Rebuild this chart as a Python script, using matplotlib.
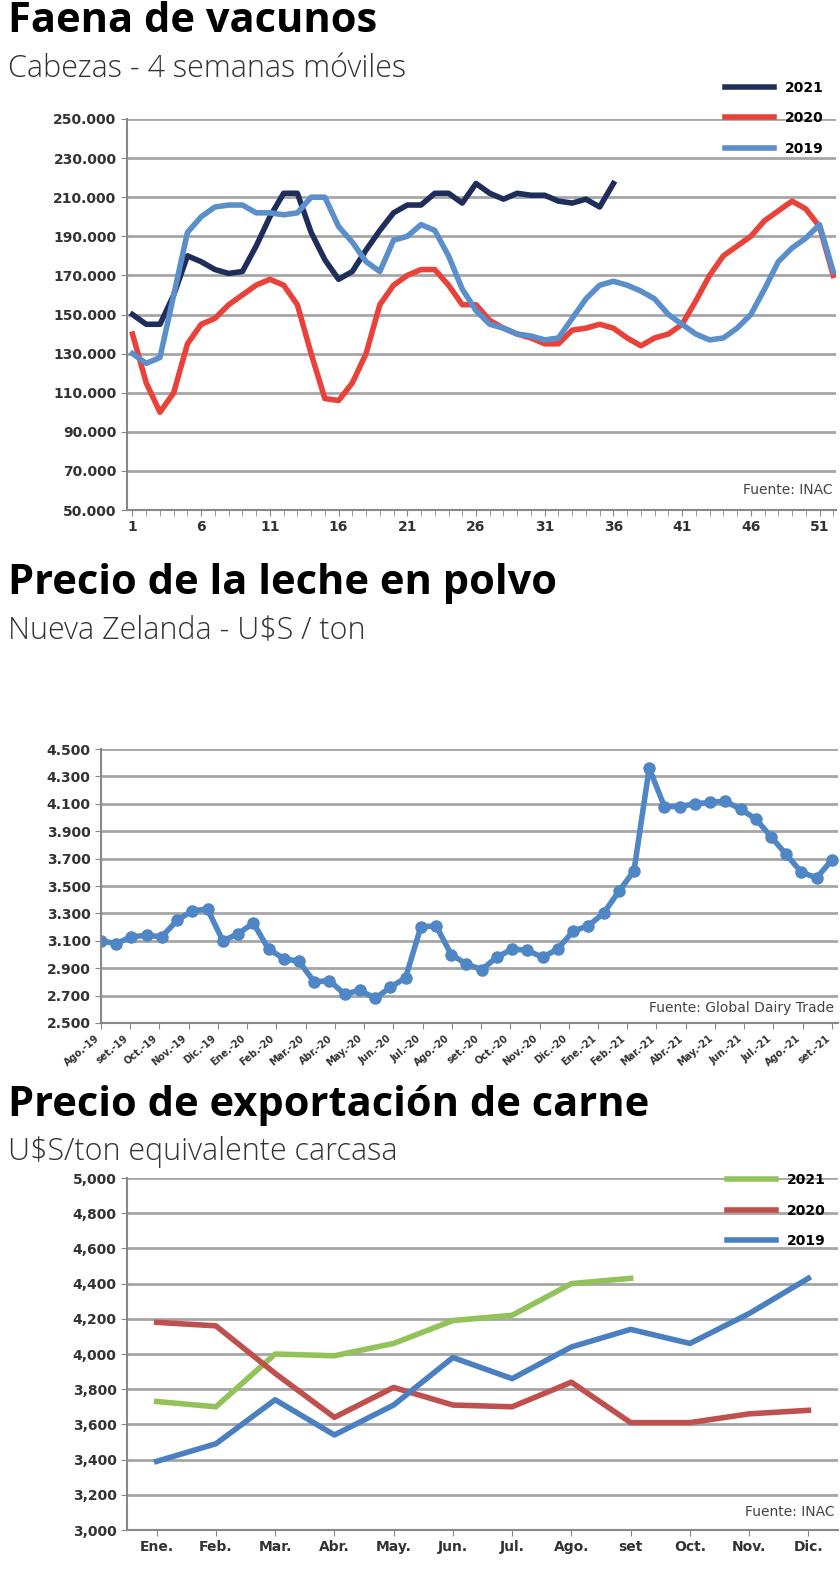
import matplotlib
matplotlib.use("Agg")
import matplotlib.pyplot as plt
import numpy as np

weeks = list(range(1, 53))
faena_2021 = [150,145,145,160,180,177,173,171,172,185,200,212,212,192,178,168,172,183,193,202,206,206,212,212,207,217,212,209,212,211,211,208,207,209,205,217]
faena_2020 = [140,115,100,110,135,145,148,155,160,165,168,165,155,130,107,106,115,130,155,165,170,173,173,165,155,155,147,143,140,138,135,135,142,143,145,143,138,134,138,140,145,157,170,180,185,190,198,203,208,204,195,170]
faena_2019 = [130,125,128,160,192,200,205,206,206,202,202,201,202,210,210,195,187,177,172,188,190,196,193,180,163,152,145,143,140,139,137,138,148,158,165,167,165,162,158,150,145,140,137,138,143,150,163,177,184,189,196,172]

leche_labels = ["Ago.-19","set.-19","Oct.-19","Nov.-19","Dic.-19","Ene.-20","Feb.-20","Mar.-20","Abr.-20","May.-20","Jun.-20","Jul.-20","Ago.-20","set.-20","Oct.-20","Nov.-20","Dic.-20","Ene.-21","Feb.-21","Mar.-21","Abr.-21","May.-21","Jun.-21","Jul.-21","Ago.-21","set.-21"]
leche_vals = [3100,3080,3130,3140,3130,3250,3320,3330,3100,3150,3230,3040,2970,2950,2800,2810,2710,2740,2680,2760,2830,3200,3210,3000,2930,2890,2980,3040,3030,2980,3040,3170,3210,3300,3460,3610,4360,4080,4080,4100,4110,4120,4060,3990,3860,3730,3600,3560,3690]

meses = ["Ene.","Feb.","Mar.","Abr.","May.","Jun.","Jul.","Ago.","set","Oct.","Nov.","Dic."]
carne_2021 = [3730,3700,4000,3990,4060,4190,4220,4400,4430]
carne_2020 = [4180,4160,3890,3640,3810,3710,3700,3840,3610,3610,3660,3680]
carne_2019 = [3390,3490,3740,3540,3710,3980,3860,4040,4140,4060,4230,4430]

W, H = 840, 1571
fig = plt.figure(figsize=(W/100, H/100), dpi=100)
TF = "Open Sans"
grid_c = "#a6a6a6"

def axrect(l, t, r, b):
    return fig.add_axes([l/W, 1-b/H, (r-l)/W, (b-t)/H])

def style(ax):
    for s in ["top", "right"]:
        ax.spines[s].set_visible(False)
    for s in ["left", "bottom"]:
        ax.spines[s].set_color("#888888"); ax.spines[s].set_linewidth(1.5)
    ax.yaxis.grid(True, color=grid_c, lw=2)
    ax.set_axisbelow(True)
    ax.tick_params(colors="#333333", labelsize=10, length=4, color="#888888")
    for lab in ax.get_yticklabels() + ax.get_xticklabels():
        lab.set_fontweight("bold")

def title(y, t, s):
    fig.text(8/W, 1-y/H, t, fontsize=30, fontweight="bold", family=TF, va="center")
    fig.text(8/W, 1-(y+47)/H, s, fontsize=22, family=TF, va="center", color="#333333", fontweight="light")

def fmt_dot(v):
    return f"{v:,}".replace(",", ".")

# Chart 1
title(22, "Faena de vacunos", "Cabezas - 4 semanas móviles")
ax1 = axrect(127, 119, 836, 510)
ax1.plot(weeks[:len(faena_2021)], np.array(faena_2021)*1000, color="#1f2d5a", lw=4, label="2021")
ax1.plot(weeks, np.array(faena_2020)*1000, color="#e8423a", lw=4, label="2020")
ax1.plot(weeks, np.array(faena_2019)*1000, color="#5b8fcb", lw=4, label="2019")
ax1.set_ylim(50000, 250000)
ax1.set_yticks(range(50000, 250001, 20000))
ax1.set_yticklabels([fmt_dot(v) for v in range(50000, 250001, 20000)])
ax1.set_xlim(0.6, 52.2)
ax1.set_xticks(range(1, 53, 5))
ax1.set_xticks(weeks, minor=True)
ax1.tick_params(which="minor", length=4, color="#888888")
style(ax1)
ax1.legend(loc="upper right", bbox_to_anchor=(1.0, 1.13), frameon=False, fontsize=10, labelspacing=1.2, handlelength=3.5, prop={"weight": "bold"})
ax1.text(0.995, 0.04, "Fuente: INAC", transform=ax1.transAxes, ha="right", fontsize=10, color="#444444")

# Chart 2
title(583, "Precio de la leche en polvo", "Nueva Zelanda - U$S / ton")
ax2 = axrect(101, 749, 838, 1023)
x2 = np.arange(len(leche_vals))
ax2.plot(x2, leche_vals, color="#4f86c6", lw=4, marker="o", ms=8)
ax2.set_ylim(2500, 4500)
ax2.set_yticks(range(2500, 4501, 200))
ax2.set_yticklabels([fmt_dot(v) for v in range(2500, 4501, 200)])
ax2.set_xlim(0, len(leche_vals)-0.6)
ax2.set_xticks(np.linspace(0, len(leche_vals)-1, len(leche_labels)))
ax2.set_xticklabels(leche_labels, rotation=40, ha="right", fontsize=7)
style(ax2)
for lab in ax2.get_xticklabels():
    lab.set_fontsize(7)
ax2.text(0.995, 0.04, "Fuente: Global Dairy Trade", transform=ax2.transAxes, ha="right", fontsize=10, color="#444444")

# Chart 3
title(1105, "Precio de exportación de carne", "U$S/ton equivalente carcasa")
ax3 = axrect(127, 1178, 838, 1530)
xm = np.arange(len(meses))
ax3.plot(xm[:len(carne_2021)], carne_2021, color="#92c25a", lw=4, label="2021")
ax3.plot(xm, carne_2020, color="#c0504d", lw=4, label="2020")
ax3.plot(xm, carne_2019, color="#4a7fc1", lw=4, label="2019")
ax3.set_ylim(3000, 5000)
ax3.set_yticks(range(3000, 5001, 200))
ax3.set_yticklabels([f"{v:,}" for v in range(3000, 5001, 200)])
ax3.set_xlim(-0.5, 11.5)
ax3.set_xticks(xm)
ax3.set_xticklabels(meses)
style(ax3)
ax3.legend(loc="upper right", bbox_to_anchor=(1.0, 1.05), frameon=False, fontsize=10, labelspacing=1.2, handlelength=3.5, prop={"weight": "bold"})
ax3.text(0.995, 0.04, "Fuente: INAC", transform=ax3.transAxes, ha="right", fontsize=10, color="#444444")

fig.savefig("out.png", dpi=100)
